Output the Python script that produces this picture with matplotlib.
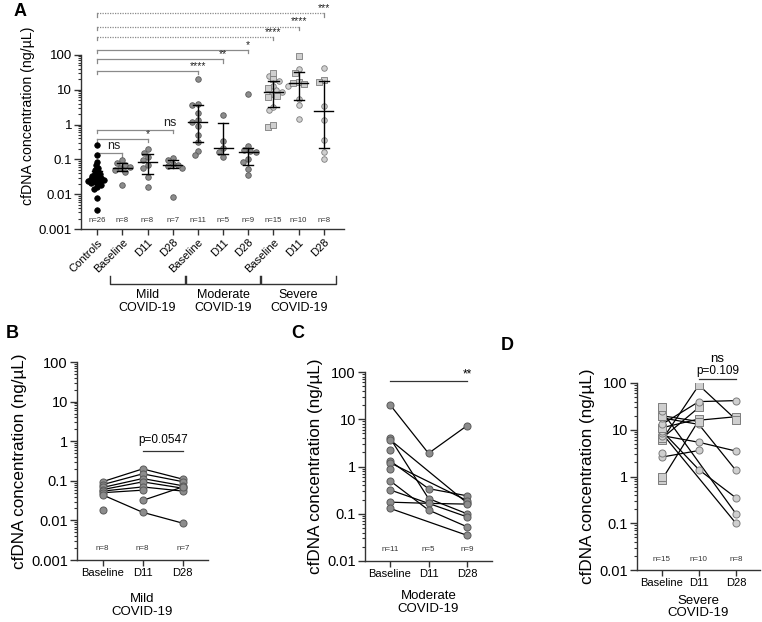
import numpy as np
import matplotlib
matplotlib.use('Agg')
import matplotlib.pyplot as plt
from matplotlib.transforms import blended_transform_factory

plt.rcParams['font.family'] = ['Liberation Sans', 'DejaVu Sans']
nan = np.nan

# ---------------- data ----------------
timepoints = ['Baseline', 'D11', 'D28']
categories_A = ['Controls', 'Baseline', 'D11', 'D28', 'Baseline', 'D11', 'D28',
                'Baseline', 'D11', 'D28']
group_names = ['Mild\nCOVID-19', 'Moderate\nCOVID-19', 'Severe\nCOVID-19']

controls = [0.26, 0.13, 0.086, 0.07, 0.058, 0.05, 0.045, 0.04, 0.037, 0.034, 0.032,
            0.030, 0.028, 0.027, 0.026, 0.025, 0.024, 0.023, 0.022, 0.021, 0.020,
            0.018, 0.016, 0.014, 0.0078, 0.0036]

# per-patient values: Baseline, D11, D28
mild = [[0.095, 0.20, 0.11],
        [0.080, 0.15, 0.095],
        [0.068, 0.114, 0.075],
        [0.060, 0.094, 0.065],
        [0.055, 0.070, 0.055],
        [0.050, 0.058, nan],
        [0.044, 0.016, 0.0085],
        [0.018, nan, nan],
        [nan, 0.032, 0.070]]

moderate = [[20.3, 1.9, 7.3],
            [4.0, 0.21, 0.10],
            [3.7, nan, 0.17],
            [2.2, nan, nan],
            [1.32, 0.34, 0.24],
            [1.2, nan, 0.19],
            [0.89, nan, nan],
            [0.32, nan, 0.086],
            [0.176, 0.166, 0.16],
            [0.50, 0.12, 0.053],
            [0.13, nan, 0.035]]

severe = [[0.85, 16, 19],
          [1.0, nan, nan],
          [2.6, 3.6, nan],
          [3.2, nan, nan],
          [6.0, 90, 16.5],
          [6.5, 30, nan],
          [7.5, 5.4, 3.5],
          [8.5, nan, 0.10],
          [9.5, 1.4, 0.35],
          [11, 17, nan],
          [13, 40, 42],
          [18, 13, 1.35],
          [20, 15, nan],
          [25, nan, 0.16],
          [30, nan, nan]]
severe_markers = ['s', 's', 'o', 'o', 's', 's', 'o', 'o', 'o', 's', 'o', 'o', 's', 'o', 's']

# significance brackets in panel A: (end category, height, label, dotted)
brackets_A = [(1, 0.15, 'ns', False), (2, 0.39, '*', False), (3, 0.70, 'ns', False),
              (4, 35, '****', False), (5, 75, '**', False), (6, 140, '*', False),
              (7, 335, '****', True), (8, 650, '****', True), (9, 1580, '***', True)]

# ---------------- styling ----------------
C_MID = '#8c8c8c'
C_MID_E = '#5a5a5a'
C_LIGHT = '#cfcfcf'
C_LIGHT_E = '#7d7d7d'
AX_C = '#333333'

fig = plt.figure(figsize=(7.62, 6.22), dpi=100)
W, H = 762.0, 622.0


def add_ax(x0, x1, ybot, ytop):
    return fig.add_axes([x0 / W, 1 - ybot / H, (x1 - x0) / W, (ybot - ytop) / H])


def style_ax(ax, ylo, yhi, fs):
    ax.set_yscale('log')
    for s in ['top', 'right']:
        ax.spines[s].set_visible(False)
    for s in ['left', 'bottom']:
        ax.spines[s].set_color(AX_C)
        ax.spines[s].set_linewidth(1.0)
    ax.spines['left'].set_bounds(ylo, yhi)
    majors = [10.0 ** e for e in range(int(round(np.log10(ylo))), int(round(np.log10(yhi))) + 1)]
    minors = [m * d for d in majors[:-1] for m in range(2, 10)]
    ax.yaxis.set_major_locator(matplotlib.ticker.FixedLocator(majors))
    ax.yaxis.set_minor_locator(matplotlib.ticker.FixedLocator(minors))
    ax.yaxis.set_major_formatter(matplotlib.ticker.FuncFormatter(lambda v, p: ('%g' % v)))
    ax.yaxis.set_minor_formatter(matplotlib.ticker.NullFormatter())
    ax.tick_params(axis='y', which='major', length=5, width=1.0, color=AX_C, labelsize=fs, pad=1.5)
    ax.tick_params(axis='y', which='minor', length=2.5, width=0.8, color=AX_C)
    ax.tick_params(axis='x', length=4, width=1.0, color=AX_C, pad=2)
    ax.set_facecolor('none')


def swarm_x(ax, x0, vals, diam_px):
    vals = np.asarray(vals, float)
    pts = ax.transData.transform(np.column_stack([np.full(len(vals), x0), vals]))
    ys = pts[:, 1]
    placed = []
    offs = np.zeros(len(vals))
    for i in np.argsort(-ys):
        y = ys[i]
        cands = [0.0]
        for (px, py) in placed:
            dy = y - py
            if abs(dy) < diam_px:
                dx = np.sqrt(diam_px ** 2 - dy ** 2)
                cands += [px + dx, px - dx]
        best = 0.0
        for c in sorted(cands, key=lambda c: (abs(c), c)):
            if all((c - px) ** 2 + (y - py) ** 2 >= diam_px ** 2 - 1e-6 for px, py in placed):
                best = c
                break
        placed.append((best, y))
        offs[i] = best
    ppu = ax.transData.transform((1, 1))[0] - ax.transData.transform((0, 1))[0]
    return x0 + offs / ppu


# ================= Panel A =================
axA = add_ax(81, 344, 229, 2)
style_ax(axA, 0.001, 100, 9.5)
axA.set_ylim(0.001, 3300)
axA.set_xlim(-0.64, 9.8)
axA.set_xticks(range(len(categories_A)))
axA.set_xticklabels(categories_A, rotation=45, ha='right', rotation_mode='anchor', fontsize=8)
axA.set_ylabel('cfDNA concentration (ng/µL)', fontsize=10.2, labelpad=3)

mild_a = np.array(mild, float)
mod_a = np.array(moderate, float)
sev_a = np.array(severe, float)

groupsA = [np.array(controls)]
for arr in (mild_a, mod_a, sev_a):
    for j in range(3):
        col = arr[:, j]
        groupsA.append(col[~np.isnan(col)])

diamA = 5.6
sA = 16
for k, vals in enumerate(groupsA):
    if k == 0:
        xs = swarm_x(axA, k, vals, 3.4)
        axA.scatter(xs, vals, s=sA, c='black', edgecolors='black', linewidths=0.5, zorder=3)
    elif k <= 6:
        xs = swarm_x(axA, k, vals, diamA)
        axA.scatter(xs, vals, s=sA, c=C_MID, edgecolors=C_MID_E, linewidths=0.6, zorder=3)
    else:
        j = k - 7
        col = sev_a[:, j]
        mask = ~np.isnan(col)
        mk = np.array(severe_markers)[mask]
        xs = swarm_x(axA, k, vals, diamA)
        for m in ['o', 's']:
            sel = mk == m
            axA.scatter(xs[sel], vals[sel], s=sA if m == 'o' else sA * 1.1, marker=m,
                        c=C_LIGHT, edgecolors=C_LIGHT_E, linewidths=0.6, zorder=3)
    # median + IQR
    q1, med, q3 = np.percentile(vals, [25, 50, 75], method='weibull')
    ez = 2.5 if k == 0 else 4
    hw = 0.3 if k == 0 else 0.38
    axA.plot([k - hw, k + hw], [med, med], color='black', lw=1.0, zorder=ez)
    axA.plot([k, k], [q1, q3], color='black', lw=1.0, zorder=ez)
    axA.plot([k - 0.2, k + 0.2], [q1, q1], color='black', lw=1.0, zorder=ez)
    axA.plot([k - 0.2, k + 0.2], [q3, q3], color='black', lw=1.0, zorder=ez)

# n labels
tA = blended_transform_factory(axA.transData, axA.transAxes)
for k, vals in enumerate(groupsA):
    axA.text(k, 0.022, 'n=%d' % len(vals), transform=tA, ha='center', va='bottom',
             fontsize=5.6, color='#333333')

# brackets
for end, h, lab, dotted in brackets_A:
    ls = (0, (1, 1)) if dotted else '-'
    col = '#8a8a8a'
    axA.plot([0, end], [h, h], color=col, lw=0.9, ls=ls, zorder=2, clip_on=False)
    axA.plot([end, end], [h, h / 1.25], color=col, lw=0.9, zorder=2, clip_on=False)
    axA.plot([0, 0], [h, h / 1.25], color=col, lw=0.9, zorder=2, clip_on=False)
    if lab == 'ns':
        axA.text(end - 0.1 if end > 1 else 0.65, h * 1.05, lab, ha='center', va='bottom',
                 fontsize=9, color='#222222')
    else:
        axA.text(end, h * 1.0, lab, ha='center', va='bottom', fontsize=7.5, color='#222222')

# group brackets below axis
tG = blended_transform_factory(axA.transData, fig.transFigure)
yb = 1 - 284 / H
yt = 1 - 276 / H
for g, (a, b) in enumerate([(0.52, 3.48), (3.52, 6.48), (6.52, 9.48)]):
    fig.lines.append(plt.Line2D([a, a, b, b], [yt, yb, yb, yt], transform=tG, color=AX_C, lw=1.0))
    axA.text((a + b) / 2, 1 - 289 / H, group_names[g], transform=tG, ha='center', va='top',
             fontsize=9, linespacing=1.1)

fig.text(20 / W, 1 - 12 / H, 'A', fontsize=13, fontweight='bold', ha='center', va='center')


# ================= Panels B, C, D =================
def paired_panel(x0, x1, ybot, ytop, data, ylo, lab_y_n, title, face, edge, markers=None,
                 xpad=7.5):
    ax = add_ax(x0, x1, ybot, ytop)
    style_ax(ax, ylo, 100, 10.5)
    ax.set_ylim(ylo, 100)
    arr = np.array(data, float)
    for i, row in enumerate(arr):
        idx = [j for j in range(3) if not np.isnan(row[j])]
        for a, b in zip(idx[:-1], idx[1:]):
            ax.plot([a, b], [row[a], row[b]], color='black', lw=0.9, zorder=2)
    for i, row in enumerate(arr):
        m = markers[i] if markers is not None else 'o'
        for j in range(3):
            if not np.isnan(row[j]):
                ax.scatter([j], [row[j]], s=26, marker=m, c=face,
                           edgecolors=edge, linewidths=0.7, zorder=3)
    ax.set_xticks(range(3))
    ax.set_xticklabels(timepoints, fontsize=8)
    ax.set_xlabel(title, fontsize=9.5, labelpad=xpad, linespacing=1.1)
    ax.set_ylabel('cfDNA concentration (ng/µL)', fontsize=12.3, labelpad=3)
    t = blended_transform_factory(ax.transData, ax.transAxes)
    for j in range(3):
        n = int(np.sum(~np.isnan(arr[:, j])))
        ax.text(j, lab_y_n, 'n=%d' % n, transform=t, ha='center', va='bottom', fontsize=5.8,
                color='#333333')
    return ax


axB = paired_panel(77, 208, 560, 362, mild, 0.001, 0.04, 'Mild\nCOVID-19', C_MID, C_MID_E,
                   xpad=10.5)
axB.set_xlim(-0.64, 2.63)
axB.plot([1, 2], [0.58, 0.58], color='#333333', lw=0.9)
axB.text(1.5, 0.75, 'p=0.0547', ha='center', va='bottom', fontsize=8.5)
fig.text(12 / W, 1 - 333 / H, 'B', fontsize=13, fontweight='bold', ha='center', va='center')

axC = paired_panel(365, 492, 561, 372, moderate, 0.01, 0.04, 'Moderate\nCOVID-19', C_MID, C_MID_E)
axC.set_xlim(-0.65, 2.65)
axC.plot([0, 2], [64, 64], color='#333333', lw=0.9)
axC.text(2, 66, '**', ha='center', va='bottom', fontsize=8.5)
fig.text(298 / W, 1 - 333 / H, 'C', fontsize=13, fontweight='bold', ha='center', va='center')

axD = paired_panel(637, 760, 570, 383, severe, 0.01, 0.04, 'Severe\nCOVID-19', C_LIGHT, C_LIGHT_E,
                   markers=severe_markers, xpad=4.5)
axD.set_xlim(-0.67, 2.65)
axD.plot([1, 2], [124, 124], color='#333333', lw=0.9, clip_on=False)
axD.text(1.5, 132, 'p=0.109', ha='center', va='bottom', fontsize=8.5, clip_on=False)
axD.text(1.5, 240, 'ns', ha='center', va='bottom', fontsize=9.5, clip_on=False)
fig.text(507 / W, 1 - 346 / H, 'D', fontsize=13, fontweight='bold', ha='center', va='center')

fig.savefig('out.png', dpi=100)
